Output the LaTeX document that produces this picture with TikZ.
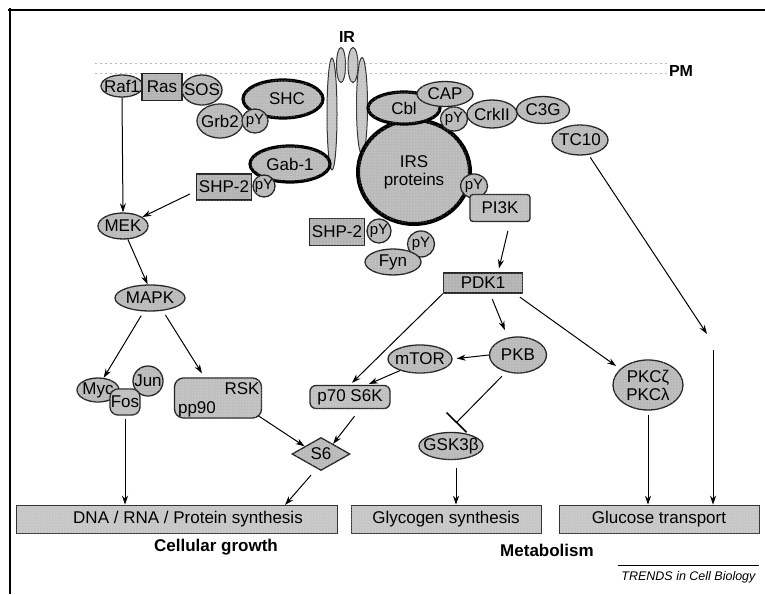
\documentclass[tikz,border=0pt]{standalone}
\usepackage{fontspec}
\setmainfont{Liberation Sans}
\usetikzlibrary{shapes.geometric,arrows.meta,patterns}
\newcommand{\labfont}{\fontsize{17}{18}\selectfont}
\newcommand{\pyfont}{\fontsize{15}{16}\selectfont}

\begin{document}
\begin{tikzpicture}[x=1pt,y=-1pt,
  sz/.style 2 args={minimum width=#1pt,minimum height=#2pt},
  grain/.style={postaction={pattern=dots,pattern color=gray!20}},
  mol/.style={ellipse,draw=black!85,line width=1.3pt,fill=gray!55,inner xsep=-6pt,inner ysep=-3pt,font=\labfont,grain},
  darkmol/.style={mol,draw=black,line width=3.2pt},
  pynode/.style={mol,font=\pyfont},
  rcp/.style={ellipse,draw=black!80,line width=1pt,fill=gray!45,inner sep=0pt,grain},
  sqbox/.style={rectangle,draw=black!85,line width=1.3pt,fill=gray!60,inner sep=0pt,font=\labfont,grain},
  rbox/.style={sqbox,fill=gray!50,rounded corners=6pt},
  gem/.style={diamond,draw=black!85,line width=1.3pt,fill=gray!55,inner sep=0pt,font=\labfont,grain},
  outbar/.style={rectangle,fill=gray!45,draw=gray!40!black,line width=0.6pt,inner sep=0pt,font=\labfont,grain},
  arr/.style={-{Stealth[length=9pt,width=6pt]},line width=1pt},
  inh/.style={-{Bar[width=28pt,line width=1.6pt]},line width=1pt},
  pmline/.style={gray!55,line width=0.9pt,dash pattern=on 2pt off 3pt}
]
\useasboundingbox (0,0) rectangle (765,594);
\fill[white] (0,0) rectangle (765,594);

% frame
\draw[line width=1.6pt] (8,10) -- (765,10);
\draw[line width=1.2pt] (10,8) -- (10,594);

% plasma membrane
\draw[pmline] (95,63) -- (667,63);
\draw[pmline] (95,73) -- (667,73);
\node[font=\bfseries\fontsize{16}{17}\selectfont] (pm) at (681,71) {PM};

% insulin receptor
\node[font=\bfseries\fontsize{16}{17}\selectfont] (ir) at (347,37) {IR};
\node[rcp,sz={10}{112}] (irl) at (332,114) {};
\node[rcp,sz={11}{97}] (irr) at (362,106) {};
\node[rcp,sz={9}{35}] (ira) at (341,65) {};
\node[rcp,sz={10}{35}] (irb) at (353,65) {};

% SHC / Grb2 / SOS / Ras / Raf1
\node[darkmol,sz={80}{38}] (shc) at (283,99) {\hspace*{8pt}SHC};
\node[mol,sz={42}{22}] (raf) at (122,86) {Raf1};
\node[sqbox,sz={40}{27}] (ras) at (162,87) {Ras};
\node[mol,sz={40}{30}] (sos) at (202,90) {SOS};
\node[mol,sz={46}{34}] (grb) at (220,121) {Grb2};
\node[pynode,sz={26}{24}] (pya) at (255,121) {pY};

% Gab-1 / SHP-2
\node[darkmol,sz={80}{36}] (gab) at (290,164) {Gab-1};
\node[sqbox,sz={55}{26}] (shpa) at (224,187) {SHP-2};
\node[pynode,sz={22}{22}] (pyb) at (264,186) {pY};

% IRS proteins and partners
\node[darkmol,line width=4pt,sz={112}{104},align=center] (irs) at (414,172) {IRS\\proteins};
\node[darkmol,sz={72}{32}] (cbl) at (404,108) {Cbl};
\node[mol,sz={56}{25}] (cap) at (445,94) {CAP};
\node[mol,sz={50}{28}] (crk) at (492,114) {CrkII};
\node[pynode,sz={27}{24}] (pyc) at (454,119) {pY};
\node[mol,sz={53}{27}] (c3g) at (543,110) {C3G};
\node[mol,sz={56}{30}] (tc) at (580,140) {TC10};

\node[pynode,sz={27}{24}] (pyd) at (474,186) {pY};
\node[rbox,rounded corners=3pt,sz={60}{27}] (pi3k) at (500,208) {PI3K};

\node[sqbox,sz={55}{27}] (shpb) at (337,232) {SHP-2};
\node[pynode,sz={24}{24}] (pye) at (379,231) {pY};
\node[pynode,sz={27}{26}] (pyf) at (421,244) {pY};
\node[mol,sz={56}{26}] (fyn) at (393,262) {Fyn};

% MAP kinase branch
\node[mol,sz={50}{26}] (mek) at (123,226) {MEK};
\node[mol,sz={70}{26}] (mapk) at (150,298) {MAPK};
\node[mol,sz={42}{24}] (myc) at (98,390) {Myc};
\node[mol,sz={30}{30}] (jun) at (148,381) {Jun};
\node[rbox,rounded corners=8pt,sz={30}{26}] (fos) at (125,402) {Fos};
\node[rbox,rounded corners=9pt,sz={87}{40}] (rsk) at (218,398) {};
\node[font=\labfont] (rsklab) at (242,389) {RSK};
\node[font=\labfont] (pplab) at (197,409) {pp90};

% PI3K branch
\node[sqbox,sz={79}{20}] (pdk) at (483,283) {PDK1};
\node[mol,sz={57}{36}] (pkb) at (518,355) {PKB};
\node[mol,sz={64}{28}] (mtor) at (420,359) {mTOR};
\node[rbox,sz={80}{23}] (p70) at (350,397) {p70 S6K};
\node[gem,sz={58}{33}] (s6) at (321,454) {S6};
\node[mol,sz={64}{27}] (gsk) at (451,446) {GSK3β};
\node[mol,sz={70}{50},align=center] (pkc) at (648,385) {PKCζ\\PKCλ};

% outputs
\node[outbar,sz={321}{28}] (dna) at (176.5,519) {\hspace*{23pt}DNA / RNA / Protein synthesis};
\node[outbar,sz={190}{28}] (glyc) at (446,519) {Glycogen synthesis};
\node[outbar,sz={200}{28}] (gluc) at (659,519) {Glucose transport};
\node[font=\bfseries\labfont] (cg) at (216,547) {Cellular growth};
\node[font=\bfseries\labfont] (met) at (547,550) {Metabolism};
\node[anchor=east,font=\itshape\fontsize{12.5}{14}\selectfont] (src) at (759,577) {TRENDS in Cell Biology};
\draw[line width=0.8pt] ([shift={(0,-2)}]src.north west) -- ([shift={(0,-2)}]src.north east);

% free ends
\coordinate (gskbar) at (456,423);
\coordinate (s6tip) at (285,505);
\coordinate (tcend) at (707,334);
\coordinate (tcdown) at (713,350);
\coordinate (gskout) at ([shift={(5,0)}]gsk.south);

% connectors
\draw[arr] (raf.south) -- (mek.north);
\draw[arr] ([shift={(-6,7)}]shpa.west) -- (mek.25);
\draw[arr] (mek.290) -- (mapk.100);
\draw[arr,shorten <=5pt] (mapk.245) -- (myc.65);
\draw[arr,shorten <=5pt] (mapk.315) -- ([shift={(-16,-4)}]rsk.north);
\draw[arr,shorten <=3pt] (fos.south) -- (fos.south |- dna.north);
\draw[arr] ([shift={(-4,-3)}]rsk.south east) -- (s6.155);
\draw[arr,shorten <=9pt] ([shift={(10,0)}]p70.south) -- (s6.40);
\draw[arr] ([shift={(-10,4)}]s6.south) -- (s6tip);
\draw[arr,shorten <=9pt,shorten >=4pt] ([shift={(10,0)}]pi3k.south) -- ([shift={(15,0)}]pdk.north);
\draw[arr] (pdk.south west) -- ([shift={(2,-2)}]p70.north);
\draw[arr,shorten >=2pt] (mtor.210) -- ([shift={(17,0)}]p70.north);
\draw[arr,shorten >=4pt] (pkb.west) -- (mtor.east);
\draw[arr,shorten <=6pt,shorten >=8pt] ([shift={(7,0)}]pdk.south) -- (pkb.120);
\draw[arr,shorten <=6pt,shorten >=5pt] ([shift={(32,0)}]pdk.south) -- (pkc.150);
\draw[inh,shorten <=6pt] (pkb.235) -- (gskbar);
\draw[arr,shorten <=8pt] (gskout) -- (gskout |- glyc.north);
\draw[arr,shorten <=4pt] (pkc.south) -- (pkc.south |- gluc.north);
\draw[arr,shorten <=3pt] (tc.300) -- (tcend);
\draw[arr] (tcdown) -- (tcdown |- gluc.north);
\end{tikzpicture}
\end{document}
